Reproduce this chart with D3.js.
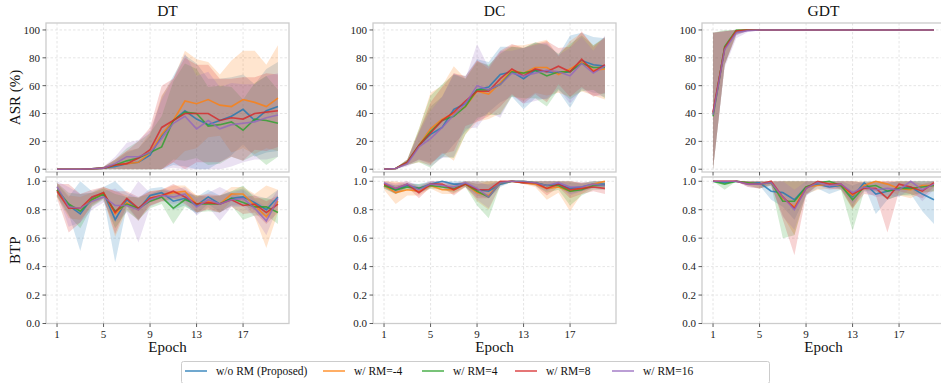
<!DOCTYPE html>
<html>
<head>
<meta charset="utf-8">
<script src="https://cdn.jsdelivr.net/npm/d3@7"></script>
<style>
  body { margin: 0; background: #fff; }
  svg text { font-family: "Liberation Serif", "Times New Roman", "DejaVu Serif", serif; }
</style>
</head>
<body>
<svg id="chart" width="941" height="383" font-family="Liberation Serif, Times New Roman, serif"></svg>
<script>
// ---- data ----
const epochs = [1,2,3,4,5,6,7,8,9,10,11,12,13,14,15,16,17,18,19,20];
const seriesNames = ["w/o RM (Proposed)", "w/ RM=-4", "w/ RM=4", "w/ RM=8", "w/ RM=16"];
const seriesColors = ["#1f77b4", "#ff7f0e", "#2ca02c", "#d62728", "#9467bd"];
const panelTitles = ["DT", "DC", "GDT"];
const asrTicks = [0, 20, 40, 60, 80, 100];
const btpTicks = [0, 0.2, 0.4, 0.6, 0.8, 1.0];
const epochTicks = [1, 5, 9, 13, 17];

// rows: blue, orange, green, red, purple
const dtAsrMean = [
  [0,0,0,0.3,0.8,2,4,5,10,24,35,42,36,32,35,38,43,35,42,45],
  [0,0,0,0.3,0.8,3,4,5,12,25,35,49,47,50,46,45,50,48,45,51],
  [0,0,0,0.3,0.8,3,6,8,12,16,35,41,40,31,32,34,28,36,35,33],
  [0,0,0,0.3,0.8,3,4,8,14,30,35,40,40,40,35,37,36,40,41,42],
  [0,0,0,0.3,0.8,4,9,9,12,22,33,38,29,35,29,32,33,34,37,39]
];
const dtAsrSd = [
  [0,0,0,0.3,1,4,8,10,14,28,32,40,40,33,30,28,25,26,30,32],
  [0,0,0,0.3,1,4,9,10,14,28,30,36,32,27,22,33,35,37,30,38],
  [0,0,0,0.3,1,4,9,12,14,22,28,35,32,28,28,25,22,26,32,24],
  [0,0,0,0.3,1,4,9,12,16,30,30,40,35,35,30,28,30,26,28,26],
  [0,0,0,0.3,1,5,10,12,16,28,32,45,38,35,30,30,28,27,30,30]
];
const dtBtpMean = [
  [0.94,0.83,0.77,0.88,0.92,0.73,0.87,0.80,0.90,0.92,0.86,0.88,0.83,0.89,0.84,0.88,0.89,0.85,0.80,0.89],
  [0.94,0.82,0.81,0.87,0.92,0.77,0.85,0.80,0.88,0.90,0.92,0.93,0.84,0.86,0.84,0.91,0.91,0.83,0.75,0.86],
  [0.94,0.84,0.79,0.87,0.91,0.79,0.84,0.81,0.86,0.89,0.81,0.87,0.84,0.84,0.84,0.88,0.85,0.82,0.82,0.78],
  [0.93,0.81,0.81,0.89,0.92,0.78,0.88,0.81,0.88,0.90,0.93,0.89,0.84,0.85,0.84,0.87,0.83,0.84,0.78,0.84],
  [0.96,0.82,0.81,0.86,0.89,0.83,0.83,0.80,0.87,0.90,0.89,0.91,0.82,0.87,0.84,0.87,0.88,0.81,0.72,0.88]
];
const dtBtpSd = [
  [0.04,0.06,0.26,0.05,0.04,0.30,0.05,0.08,0.05,0.04,0.06,0.05,0.06,0.05,0.06,0.05,0.06,0.05,0.08,0.05],
  [0.05,0.08,0.08,0.05,0.04,0.16,0.05,0.08,0.05,0.04,0.05,0.04,0.06,0.05,0.06,0.05,0.05,0.08,0.22,0.08],
  [0.05,0.08,0.12,0.05,0.04,0.12,0.05,0.08,0.05,0.05,0.11,0.05,0.06,0.05,0.06,0.05,0.12,0.06,0.06,0.08],
  [0.05,0.17,0.10,0.05,0.04,0.15,0.05,0.08,0.05,0.04,0.05,0.05,0.06,0.05,0.06,0.05,0.06,0.06,0.08,0.06],
  [0.04,0.14,0.10,0.06,0.04,0.12,0.05,0.23,0.05,0.04,0.05,0.05,0.06,0.05,0.12,0.05,0.06,0.06,0.10,0.06]
];

const dcAsrMean = [
  [0,0.5,5,17,25,30,43,47,57,59,68,70,65,71,70,69,70,78,75,74],
  [0,0.5,5,17,29,36,40,45,56,54,62,71,69,73,73,68,72,77,71,72],
  [0,0.5,5,17,27,35,38,45,57,57,61,70,69,71,67,70,70,76,73,73],
  [0,0.5,5,17,26,35,41,49,56,56,65,72,67,72,70,74,70,79,70,75],
  [0,0.5,4,16,22,30,39,47,60,57,61,69,67,69,71,70,67,76,69,74]
];
const dcAsrSd = [
  [0,0.3,2,10,20,22,25,20,22,18,20,18,22,20,20,13,26,20,20,20],
  [0,0.3,2,12,26,24,34,20,22,18,22,18,20,18,20,13,20,21,18,22],
  [0,0.3,2,12,26,26,30,20,20,18,22,18,18,20,22,13,20,20,16,22],
  [0,0.3,2,10,22,24,28,18,22,18,20,18,20,18,22,13,18,20,18,20],
  [0,0.3,2,10,20,22,30,18,30,16,24,16,20,20,20,12,20,19,16,22]
];
const dcBtpMean = [
  [0.97,0.94,0.97,0.95,0.98,1.00,0.98,0.98,0.94,0.93,0.98,1.00,0.99,0.99,0.97,0.98,0.95,0.96,0.98,0.98],
  [0.97,0.92,0.94,0.93,0.97,0.94,0.94,0.98,0.92,0.90,0.99,1.00,0.99,0.98,0.95,0.96,0.93,0.95,0.98,1.00],
  [0.97,0.94,0.96,0.95,0.97,0.96,0.95,0.98,0.93,0.89,0.99,1.00,1.00,0.99,0.97,0.97,0.93,0.94,0.97,0.97],
  [0.98,0.95,0.98,0.92,0.98,0.98,0.94,0.98,0.94,0.94,1.00,1.00,0.99,0.99,0.95,0.98,0.94,0.95,0.96,0.95],
  [0.99,0.95,0.98,0.94,0.98,0.97,0.96,0.99,0.95,0.89,0.99,1.00,1.00,0.99,0.97,0.99,0.96,0.96,0.98,0.97]
];
const dcBtpSd = [
  [0.02,0.03,0.02,0.03,0.02,0.01,0.02,0.02,0.04,0.05,0.02,0.005,0.01,0.01,0.03,0.02,0.04,0.03,0.02,0.02],
  [0.03,0.08,0.04,0.03,0.02,0.03,0.03,0.02,0.06,0.10,0.02,0.005,0.01,0.02,0.08,0.04,0.14,0.04,0.02,0.02],
  [0.02,0.03,0.02,0.03,0.02,0.02,0.03,0.02,0.10,0.15,0.02,0.005,0.01,0.02,0.05,0.03,0.10,0.04,0.03,0.03],
  [0.02,0.04,0.02,0.04,0.02,0.02,0.04,0.02,0.06,0.06,0.02,0.005,0.01,0.02,0.05,0.02,0.06,0.04,0.03,0.04],
  [0.02,0.03,0.02,0.03,0.02,0.02,0.03,0.02,0.08,0.08,0.02,0.005,0.01,0.02,0.04,0.02,0.06,0.03,0.03,0.03]
];

const gdtAsrMean = [
  [40,87,99,100,100,100,100,100,100,100,100,100,100,100,100,100,100,100,100,100],
  [40,87,99.5,100,100,100,100,100,100,100,100,100,100,100,100,100,100,100,100,100],
  [38,88,100,100,100,100,100,100,100,100,100,100,100,100,100,100,100,100,100,100],
  [41,87,99.5,100,100,100,100,100,100,100,100,100,100,100,100,100,100,100,100,100],
  [39,86,98,99.5,100,100,100,100,100,100,100,100,100,100,100,100,100,100,100,100]
];
const gdtAsrSd = [
  [58,12,3,0.5,0,0,0,0,0,0,0,0,0,0,0,0,0,0,0,0],
  [58,12,3,0.5,0,0,0,0,0,0,0,0,0,0,0,0,0,0,0,0],
  [60,13,2,0.5,0,0,0,0,0,0,0,0,0,0,0,0,0,0,0,0],
  [57,12,3,0.5,0,0,0,0,0,0,0,0,0,0,0,0,0,0,0,0],
  [59,13,4,1,0,0,0,0,0,0,0,0,0,0,0,0,0,0,0,0]
];
const gdtBtpMean = [
  [1.00,0.99,1.00,0.99,0.99,0.93,0.92,0.87,0.96,0.98,0.96,0.97,0.89,0.99,0.91,0.93,0.95,0.96,0.91,0.87],
  [1.00,1.00,1.00,0.99,0.98,0.99,0.88,0.82,0.96,0.97,0.98,0.97,0.90,0.97,1.00,0.98,0.95,0.94,0.97,0.97],
  [1.00,0.98,1.00,0.99,0.98,0.99,0.86,0.86,0.96,0.99,1.00,0.97,0.87,0.96,0.97,0.93,0.95,0.95,0.96,0.97],
  [1.00,1.00,1.00,0.98,0.98,1.00,0.89,0.81,0.95,1.00,0.98,0.98,0.91,0.95,0.95,0.88,0.98,0.96,0.93,0.99],
  [1.00,1.00,1.00,0.98,0.98,0.99,0.89,0.80,0.95,0.99,0.97,0.98,0.92,0.96,0.94,0.95,0.94,1.00,0.94,0.98]
];
const gdtBtpSd = [
  [0,0.01,0,0.01,0.02,0.06,0.10,0.14,0.06,0.03,0.05,0.03,0.08,0.02,0.14,0.06,0.05,0.05,0.12,0.17],
  [0,0.01,0,0.02,0.03,0.02,0.12,0.20,0.05,0.03,0.03,0.03,0.10,0.03,0.03,0.04,0.05,0.06,0.05,0.04],
  [0,0.04,0,0.02,0.03,0.02,0.26,0.24,0.05,0.02,0.02,0.03,0.22,0.03,0.04,0.06,0.05,0.05,0.04,0.04],
  [0,0.01,0,0.02,0.03,0.02,0.16,0.33,0.05,0.02,0.03,0.03,0.10,0.04,0.05,0.24,0.05,0.05,0.05,0.03],
  [0,0.01,0,0.02,0.03,0.02,0.14,0.14,0.05,0.02,0.03,0.03,0.08,0.03,0.05,0.05,0.05,0.05,0.08,0.04]
];

// ---- layout ----
const svg = d3.select("#chart");
const colLeft = [46, 373, 702];
const colW = 243;
const rows = [
  {top: 23, bottom: 172, domain: [-2, 105], ticks: asrTicks, fmt: d => d, cap: 100, label: "ASR (%)",
   data: [[dtAsrMean, dtAsrSd], [dcAsrMean, dcAsrSd], [gdtAsrMean, gdtAsrSd]], showX: false},
  {top: 177, bottom: 323.5, domain: [0, 1.03], ticks: btpTicks, fmt: d3.format(".1f"), cap: 1, label: "BTP",
   data: [[dtBtpMean, dtBtpSd], [dcBtpMean, dcBtpSd], [gdtBtpMean, gdtBtpSd]], showX: true}
];

let clipId = 0;
rows.forEach((row, ri) => {
  colLeft.forEach((left, ci) => {
    const x = d3.scaleLinear().domain([0.05, 20.95]).range([left, left + colW]);
    const y = d3.scaleLinear().domain(row.domain).range([row.bottom, row.top]);
    const g = svg.append("g");
    const id = "clip" + (clipId++);
    svg.append("clipPath").attr("id", id).append("rect")
      .attr("x", left).attr("y", row.top).attr("width", colW).attr("height", row.bottom - row.top);

    // grid
    g.selectAll(".gx").data(epochTicks).enter().append("line")
      .attr("x1", d => x(d)).attr("x2", d => x(d))
      .attr("y1", row.top).attr("y2", row.bottom)
      .attr("stroke", "#dedede").attr("stroke-width", 0.8).attr("stroke-dasharray", "2.5,2");
    g.selectAll(".gy").data(row.ticks).enter().append("line")
      .attr("x1", left).attr("x2", left + colW)
      .attr("y1", d => y(d)).attr("y2", d => y(d))
      .attr("stroke", "#dedede").attr("stroke-width", 0.8).attr("stroke-dasharray", "2.5,2");

    const [means, sds] = row.data[ci];
    const plot = g.append("g").attr("clip-path", "url(#" + id + ")");
    // bands
    means.forEach((m, si) => {
      const area = d3.area()
        .x((d, i) => x(epochs[i]))
        .y0((d, i) => y(Math.max(0, d - sds[si][i])))
        .y1((d, i) => y(Math.min(row.cap, d + sds[si][i])));
      plot.append("path").datum(m).attr("d", area)
        .attr("fill", seriesColors[si]).attr("fill-opacity", 0.2);
    });
    // lines
    means.forEach((m, si) => {
      const line = d3.line().x((d, i) => x(epochs[i])).y(d => y(d));
      plot.append("path").datum(m).attr("d", line)
        .attr("fill", "none").attr("stroke", seriesColors[si])
        .attr("stroke-opacity", 0.8).attr("stroke-width", 1.6);
    });

    // frame
    g.append("rect").attr("x", left).attr("y", row.top)
      .attr("width", colW).attr("height", row.bottom - row.top)
      .attr("fill", "none").attr("stroke", "#cccccc").attr("stroke-width", 1.3);

    // y ticks
    g.selectAll(".ty").data(row.ticks).enter().append("line")
      .attr("x1", left - 3.5).attr("x2", left).attr("y1", d => y(d)).attr("y2", d => y(d))
      .attr("stroke", "#333").attr("stroke-width", 0.8);
    g.selectAll(".ly").data(row.ticks).enter().append("text")
      .attr("x", left - 6).attr("y", d => y(d)).attr("dy", "0.35em")
      .attr("text-anchor", "end").attr("font-size", 11).attr("fill", "#222")
      .text(row.fmt);

    // x ticks
    g.selectAll(".tx").data(epochTicks).enter().append("line")
      .attr("x1", d => x(d)).attr("x2", d => x(d)).attr("y1", row.bottom).attr("y2", row.bottom + 3.5)
      .attr("stroke", "#333").attr("stroke-width", 0.8);
    if (row.showX) {
      g.selectAll(".lx").data(epochTicks).enter().append("text")
        .attr("x", d => x(d)).attr("y", row.bottom + 14.5)
        .attr("text-anchor", "middle").attr("font-size", 11).attr("fill", "#222")
        .text(d => d);
      g.append("text").attr("x", left + colW / 2).attr("y", 352)
        .attr("text-anchor", "middle").attr("font-size", 15).attr("fill", "#111")
        .text("Epoch");
    } else {
      g.append("text").attr("x", left + colW / 2).attr("y", 16)
        .attr("text-anchor", "middle").attr("font-size", 15.5).attr("fill", "#111")
        .text(panelTitles[ci]);
    }
  });
  // y label
  const cy = (row.top + row.bottom) / 2;
  svg.append("text").attr("transform", `translate(20,${cy}) rotate(-90)`)
    .attr("text-anchor", "middle").attr("font-size", 15).attr("fill", "#111")
    .text(row.label);
});

// legend
const legendX = [185, 323, 422, 515, 612];
const lg = svg.append("g");
lg.append("rect").attr("x", 181.5).attr("y", 361.5).attr("width", 588).attr("height", 22)
  .attr("rx", 2).attr("fill", "#fff").attr("stroke", "#cccccc").attr("stroke-width", 1);
seriesNames.forEach((name, i) => {
  lg.append("line").attr("x1", legendX[i]).attr("x2", legendX[i] + 22)
    .attr("y1", 371).attr("y2", 371)
    .attr("stroke", seriesColors[i]).attr("stroke-opacity", 0.8).attr("stroke-width", 1.6);
  lg.append("text").attr("x", legendX[i] + 31).attr("y", 371).attr("dy", "0.35em")
    .attr("font-size", 11.5).attr("fill", "#111").text(name);
});
</script>
</body>
</html>
